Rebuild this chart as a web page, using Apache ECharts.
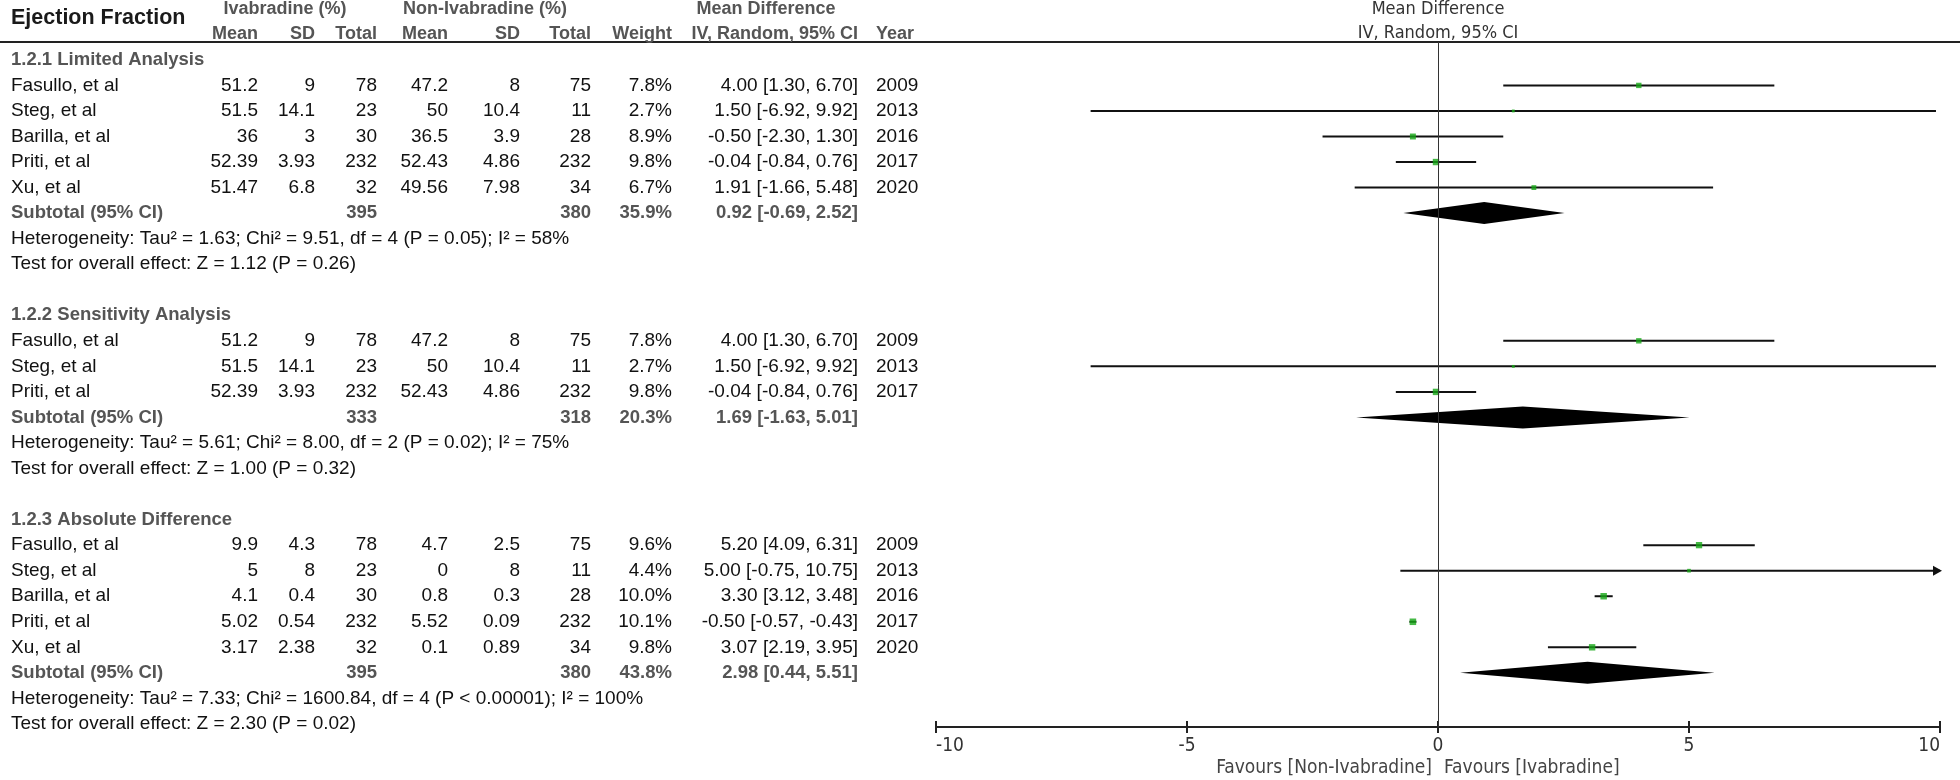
<!DOCTYPE html>
<html>
<head>
<meta charset="utf-8">
<title>Ejection Fraction forest plot</title>
<script src="https://cdn.jsdelivr.net/npm/echarts@6.0.0/dist/echarts.min.js"></script>
<style>
  html, body { margin: 0; padding: 0; background: #fff; }
  #chart { width: 1960px; height: 780px; }
</style>
</head>
<body>
<div id="chart"></div>
<script>
// study, iv mean, iv sd, iv total, non mean, non sd, non total, weight %, MD, lower, upper, year
const limitedRows = [
  ['Fasullo, et al', 51.2, 9, 78, 47.2, 8, 75, 7.8, 4.00, 1.30, 6.70, 2009],
  ['Steg, et al', 51.5, 14.1, 23, 50, 10.4, 11, 2.7, 1.50, -6.92, 9.92, 2013],
  ['Barilla, et al', 36, 3, 30, 36.5, 3.9, 28, 8.9, -0.50, -2.30, 1.30, 2016],
  ['Priti, et al', 52.39, 3.93, 232, 52.43, 4.86, 232, 9.8, -0.04, -0.84, 0.76, 2017],
  ['Xu, et al', 51.47, 6.8, 32, 49.56, 7.98, 34, 6.7, 1.91, -1.66, 5.48, 2020]
];
const sensitivityRows = [
  ['Fasullo, et al', 51.2, 9, 78, 47.2, 8, 75, 7.8, 4.00, 1.30, 6.70, 2009],
  ['Steg, et al', 51.5, 14.1, 23, 50, 10.4, 11, 2.7, 1.50, -6.92, 9.92, 2013],
  ['Priti, et al', 52.39, 3.93, 232, 52.43, 4.86, 232, 9.8, -0.04, -0.84, 0.76, 2017]
];
const absoluteRows = [
  ['Fasullo, et al', 9.9, 4.3, 78, 4.7, 2.5, 75, 9.6, 5.20, 4.09, 6.31, 2009],
  ['Steg, et al', 5, 8, 23, 0, 8, 11, 4.4, 5.00, -0.75, 10.75, 2013],
  ['Barilla, et al', 4.1, 0.4, 30, 0.8, 0.3, 28, 10.0, 3.30, 3.12, 3.48, 2016],
  ['Priti, et al', 5.02, 0.54, 232, 5.52, 0.09, 232, 10.1, -0.50, -0.57, -0.43, 2017],
  ['Xu, et al', 3.17, 2.38, 32, 0.1, 0.89, 34, 9.8, 3.07, 2.19, 3.95, 2020]
];

// iv total, non total, weight %, MD, lower, upper
const limitedSubtotal = [395, 380, 35.9, 0.92, -0.69, 2.52];
const sensitivitySubtotal = [333, 318, 20.3, 1.69, -1.63, 5.01];
const absoluteSubtotal = [395, 380, 43.8, 2.98, 0.44, 5.51];

const sectionTitles = ['1.2.1 Limited Analysis', '1.2.2 Sensitivity Analysis', '1.2.3 Absolute Difference'];
const heterogeneity = [
  'Heterogeneity: Tau\u00b2 = 1.63; Chi\u00b2 = 9.51, df = 4 (P = 0.05); I\u00b2 = 58%',
  'Heterogeneity: Tau\u00b2 = 5.61; Chi\u00b2 = 8.00, df = 2 (P = 0.02); I\u00b2 = 75%',
  'Heterogeneity: Tau\u00b2 = 7.33; Chi\u00b2 = 1600.84, df = 4 (P < 0.00001); I\u00b2 = 100%'
];
const overallEffect = [
  'Test for overall effect: Z = 1.12 (P = 0.26)',
  'Test for overall effect: Z = 1.00 (P = 0.32)',
  'Test for overall effect: Z = 2.30 (P = 0.02)'
];

const xMin = -10, xMax = 10, xStep = 5;
const leftFavour = 'Favours [Non-Ivabradine]';
const rightFavour = 'Favours [Ivabradine]';

const sections = [
  { rows: limitedRows, sub: limitedSubtotal },
  { rows: sensitivityRows, sub: sensitivitySubtotal },
  { rows: absoluteRows, sub: absoluteSubtotal }
];

// ---- layout (pixels for table columns) ----
const COL = {
  name: 11, ivMean: 258, ivSd: 315, ivN: 377, nonMean: 448,
  nonSd: 520, nonN: 591, weight: 672, ci: 858, year: 876
};
const SANS = '"Liberation Sans", Arial, sans-serif';
const NARROW = '"Liberation Sans Narrow", "DejaVu Sans Condensed", "Liberation Sans", sans-serif';
const STYLES = {
  title: { fontSize: 21.5, fontWeight: 'bold', fill: '#1a1a1a', fontFamily: SANS },
  head: { fontSize: 18, fontWeight: 'bold', fill: '#555', fontFamily: SANS },
  sub: { fontSize: 18.5, fontWeight: 'bold', fill: '#555', fontFamily: SANS },
  body: { fontSize: 19, fontWeight: 'normal', fill: '#111', fontFamily: SANS },
  plotHead: { fontSize: 18, fontWeight: 'normal', fill: '#333', fontFamily: NARROW },
  favour: { fontSize: 19, fontWeight: 'normal', fill: '#444', fontFamily: NARROW }
};

const cells = [];
function cell(x, row, text, align, kind) {
  cells.push({ x, row, text: String(text), align, kind });
}
const ciText = (m, lo, hi) => `${m.toFixed(2)} [${lo.toFixed(2)}, ${hi.toFixed(2)}]`;

// header rows
cell(COL.name, -1.64, 'Ejection Fraction', 'left', 'title');
cell(285, -1.99, 'Ivabradine (%)', 'center', 'head');
cell(485, -1.99, 'Non-Ivabradine (%)', 'center', 'head');
cell(766, -1.99, 'Mean Difference', 'center', 'head');
[['Mean', COL.ivMean], ['SD', COL.ivSd], ['Total', COL.ivN], ['Mean', COL.nonMean],
 ['SD', COL.nonSd], ['Total', COL.nonN], ['Weight', COL.weight], ['IV, Random, 95% CI', COL.ci]]
  .forEach(([t, x]) => cell(x, -1.01, t, 'right', 'head'));
cell(COL.year, -1.01, 'Year', 'left', 'head');

const ciData = [], pointData = [], diamondData = [];
let row = 0;
sections.forEach((s, si) => {
  cell(COL.name, row++, sectionTitles[si], 'left', 'sub');
  s.rows.forEach(r => {
    cell(COL.name, row, r[0], 'left', 'body');
    cell(COL.ivMean, row, r[1], 'right', 'body');
    cell(COL.ivSd, row, r[2], 'right', 'body');
    cell(COL.ivN, row, r[3], 'right', 'body');
    cell(COL.nonMean, row, r[4], 'right', 'body');
    cell(COL.nonSd, row, r[5], 'right', 'body');
    cell(COL.nonN, row, r[6], 'right', 'body');
    cell(COL.weight, row, r[7].toFixed(1) + '%', 'right', 'body');
    cell(COL.ci, row, ciText(r[8], r[9], r[10]), 'right', 'body');
    cell(COL.year, row, r[11], 'left', 'body');
    ciData.push([r[9], r[10], row]);
    pointData.push([r[8], row, r[7]]);
    row++;
  });
  cell(COL.name, row, 'Subtotal (95% CI)', 'left', 'sub');
  cell(COL.ivN, row, s.sub[0], 'right', 'sub');
  cell(COL.nonN, row, s.sub[1], 'right', 'sub');
  cell(COL.weight, row, s.sub[2].toFixed(1) + '%', 'right', 'sub');
  cell(COL.ci, row, ciText(s.sub[3], s.sub[4], s.sub[5]), 'right', 'sub');
  diamondData.push([s.sub[4], s.sub[3], s.sub[5], row]);
  row++;
  cell(COL.name, row++, heterogeneity[si], 'left', 'body');
  cell(COL.name, row++, overallEffect[si], 'left', 'body');
  row++; // blank line between subgroups
});

const lastRow = row - 2;
const yMin = -0.7, yMax = lastRow + 0.12;
const GRID_TOP = 42, GRID_BOTTOM = 53;

function textRender(params, api) {
  const c = cells[api.value(2)];
  const p = api.coord([c.x, c.row]);
  const st = STYLES[c.kind];
  return {
    type: 'text', x: p[0], y: p[1],
    style: Object.assign({ text: c.text, align: c.align, verticalAlign: 'middle' }, st)
  };
}

// plot header / footer labels at the zero line
const plotLabels = [
  [0, -1.99, 'Mean Difference', 'center', 0, 'plotHead'],
  [0, -1.05, 'IV, Random, 95% CI', 'center', 0, 'plotHead'],
  [0, lastRow + 1.74, leftFavour, 'right', -6, 'favour'],
  [0, lastRow + 1.74, rightFavour, 'left', 6, 'favour']
];

const chart = echarts.init(document.getElementById('chart'), null, { renderer: 'canvas' });
chart.setOption({
  backgroundColor: '#fff',
  animation: false,
  grid: [
    { left: 0, right: 0, top: GRID_TOP, bottom: GRID_BOTTOM },
    { left: 936, right: 20, top: GRID_TOP, bottom: GRID_BOTTOM }
  ],
  xAxis: [
    {
      // header rule across the whole table
      gridIndex: 0, type: 'value', min: 0, max: 1960, position: 'top',
      axisLine: { show: true, onZero: false, lineStyle: { color: '#222', width: 2 } },
      axisTick: { show: false }, axisLabel: { show: false }, splitLine: { show: false }
    },
    {
      gridIndex: 1, type: 'value', min: xMin, max: xMax, interval: xStep, position: 'bottom',
      axisLine: { show: true, onZero: false, lineStyle: { color: '#222', width: 2 } },
      axisTick: { show: true, length: 6, lineStyle: { color: '#222', width: 2 } },
      axisLabel: {
        color: '#333', fontSize: 19, fontFamily: NARROW, margin: 10,
        alignMinLabel: 'left', alignMaxLabel: 'right'
      },
      splitLine: { show: false }
    },
    {
      gridIndex: 1, type: 'value', min: xMin, max: xMax, interval: xStep, position: 'bottom',
      axisLine: { show: false, onZero: false },
      axisTick: { show: true, inside: true, length: 6, lineStyle: { color: '#222', width: 2 } },
      axisLabel: { show: false }, splitLine: { show: false }
    }
  ],
  yAxis: [
    { gridIndex: 0, type: 'value', inverse: true, min: yMin, max: yMax, show: false },
    { gridIndex: 1, type: 'value', inverse: true, min: yMin, max: yMax, show: false }
  ],
  series: [
    {
      // table text
      type: 'custom', xAxisIndex: 0, yAxisIndex: 0, silent: true, clip: false,
      data: cells.map((c, i) => [c.x, c.row, i]),
      renderItem: textRender
    },
    {
      // zero line + labels above and below the plot
      type: 'custom', xAxisIndex: 1, yAxisIndex: 1, silent: true, clip: false,
      data: plotLabels.map((l, i) => [l[0], l[1], i]),
      renderItem: (params, api) => {
        const l = plotLabels[api.value(2)];
        const p = api.coord([l[0], l[1]]);
        return {
          type: 'text', x: p[0] + l[4], y: p[1],
          style: Object.assign({ text: l[2], align: l[3], verticalAlign: 'middle' }, STYLES[l[5]])
        };
      },
      markLine: {
        silent: true, symbol: 'none', label: { show: false },
        lineStyle: { color: '#333', width: 1, type: 'solid' },
        data: [{ xAxis: 0 }]
      }
    },
    {
      // confidence intervals
      type: 'custom', xAxisIndex: 1, yAxisIndex: 1, silent: true, clip: false, z: 3,
      data: ciData,
      renderItem: (params, api) => {
        const lo = api.value(0), hi = api.value(1), r = api.value(2);
        const a = api.coord([Math.max(lo, xMin), r]);
        const b = api.coord([Math.min(hi, xMax), r]);
        const children = [{
          type: 'line', shape: { x1: a[0], y1: a[1], x2: b[0], y2: b[1] },
          style: { stroke: '#111', lineWidth: 2 }
        }];
        if (hi > xMax) {
          children.push({
            type: 'polygon',
            shape: { points: [[b[0] + 2, b[1]], [b[0] - 7, b[1] - 5], [b[0] - 7, b[1] + 5]] },
            style: { fill: '#111' }
          });
        }
        if (lo < xMin) {
          children.push({
            type: 'polygon',
            shape: { points: [[a[0] - 2, a[1]], [a[0] + 7, a[1] - 5], [a[0] + 7, a[1] + 5]] },
            style: { fill: '#111' }
          });
        }
        return { type: 'group', children };
      }
    },
    {
      // study estimates, square sized by weight
      type: 'scatter', xAxisIndex: 1, yAxisIndex: 1, silent: true, z: 4,
      symbol: 'rect',
      symbolSize: v => 1.5 + v[2] * 0.5,
      itemStyle: { color: '#17a617' },
      data: pointData
    },
    {
      // subtotal diamonds
      type: 'custom', xAxisIndex: 1, yAxisIndex: 1, silent: true, clip: false, z: 3,
      data: diamondData,
      renderItem: (params, api) => {
        const r = api.value(3);
        const lo = api.coord([api.value(0), r]);
        const mid = api.coord([api.value(1), r]);
        const hi = api.coord([api.value(2), r]);
        const h = 11;
        return {
          type: 'polygon',
          shape: { points: [[lo[0], lo[1]], [mid[0], mid[1] - h], [hi[0], hi[1]], [mid[0], mid[1] + h]] },
          style: { fill: '#000' }
        };
      }
    }
  ]
});
</script>
</body>
</html>
